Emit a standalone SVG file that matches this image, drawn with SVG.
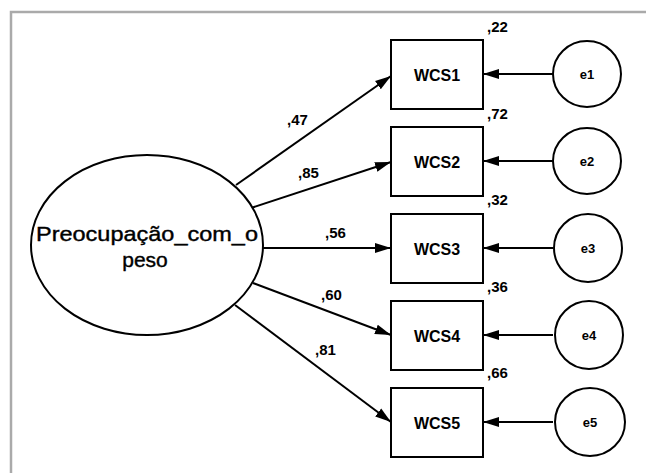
<svg xmlns="http://www.w3.org/2000/svg" width="646" height="473" viewBox="0 0 646 473">
  <style>
    .ln { stroke: #000; stroke-width: 2; fill: none; }
    .shape { fill: #fff; stroke: #000; stroke-width: 2; }
    .obs { font-family: "Liberation Sans", Arial, sans-serif; font-size: 16px; font-weight: bold; text-anchor: middle; }
    .err { font-family: "Liberation Sans", Arial, sans-serif; font-size: 13px; font-weight: bold; text-anchor: middle; }
    .coef { font-family: "Liberation Sans", Arial, sans-serif; font-size: 15px; font-weight: bold; }
    .lat { font-family: "Liberation Sans", Arial, sans-serif; font-size: 21px; text-anchor: middle; stroke: #000; stroke-width: 0.4; }
  </style>
  <defs>
    <marker id="arrow" markerUnits="userSpaceOnUse" markerWidth="17" markerHeight="12" refX="16" refY="5.5" orient="auto">
      <path d="M0,0.5 L16,5.5 L0,10.5 Z" fill="#000"/>
    </marker>
  </defs>

  <rect width="646" height="473" fill="#fff"/>
  <!-- outer frame -->
  <path d="M11,476 V12 H650" fill="none" stroke="#aaa" stroke-width="2.5"/>

  <!-- connectors -->
  <g id="connectors" class="ln" marker-end="url(#arrow)">
    <line x1="236" y1="185" x2="391" y2="76"/>
    <line x1="251" y1="208" x2="391" y2="162"/>
    <line x1="263" y1="248" x2="391" y2="248"/>
    <line x1="253" y1="283" x2="391" y2="335"/>
    <line x1="235" y1="305" x2="391" y2="422"/>
    <line x1="553" y1="74" x2="483" y2="74"/>
    <line x1="553" y1="161" x2="483" y2="161"/>
    <line x1="553" y1="248" x2="483" y2="248"/>
    <line x1="553" y1="335" x2="483" y2="335"/>
    <line x1="553" y1="422" x2="483" y2="422"/>
  </g>

  <!-- loadings -->
  <g id="loadings" class="coef">
    <text x="287" y="125">,47</text>
    <text x="298" y="178">,85</text>
    <text x="325" y="238">,56</text>
    <text x="321" y="300">,60</text>
    <text x="315" y="355">,81</text>
  </g>

  <!-- latent factor -->
  <g id="Preocupacao_com_o_peso">
    <ellipse class="shape" cx="147" cy="245" rx="116" ry="90"/>
    <text class="lat" x="147" y="241" textLength="222" lengthAdjust="spacingAndGlyphs">Preocupação_com_o</text>
    <text class="lat" x="145" y="267">peso</text>
  </g>

  <!-- observed indicators -->
  <g id="WCS1">
    <rect class="shape" x="391" y="40" width="92" height="69"/>
    <text class="obs" x="437" y="81">WCS1</text>
    <text class="coef" x="487" y="32">,22</text>
  </g>
  <g id="WCS2">
    <rect class="shape" x="391" y="127" width="92" height="69"/>
    <text class="obs" x="437" y="168">WCS2</text>
    <text class="coef" x="487" y="119">,72</text>
  </g>
  <g id="WCS3">
    <rect class="shape" x="391" y="214" width="92" height="69"/>
    <text class="obs" x="437" y="255">WCS3</text>
    <text class="coef" x="487" y="205">,32</text>
  </g>
  <g id="WCS4">
    <rect class="shape" x="391" y="301" width="92" height="69"/>
    <text class="obs" x="437" y="342">WCS4</text>
    <text class="coef" x="487" y="292">,36</text>
  </g>
  <g id="WCS5">
    <rect class="shape" x="391" y="388" width="92" height="69"/>
    <text class="obs" x="437" y="429">WCS5</text>
    <text class="coef" x="487" y="378">,66</text>
  </g>

  <!-- error terms -->
  <g id="e1">
    <ellipse class="shape" cx="587" cy="74" rx="34" ry="33"/>
    <text class="err" x="587" y="79">e1</text>
  </g>
  <g id="e2">
    <ellipse class="shape" cx="587" cy="161" rx="34" ry="33"/>
    <text class="err" x="587" y="166">e2</text>
  </g>
  <g id="e3">
    <ellipse class="shape" cx="588" cy="248" rx="34" ry="34"/>
    <text class="err" x="588" y="253">e3</text>
  </g>
  <g id="e4">
    <ellipse class="shape" cx="589" cy="335" rx="34" ry="34"/>
    <text class="err" x="589" y="340">e4</text>
  </g>
  <g id="e5">
    <ellipse class="shape" cx="590" cy="422" rx="35" ry="34"/>
    <text class="err" x="590" y="427">e5</text>
  </g>
</svg>
